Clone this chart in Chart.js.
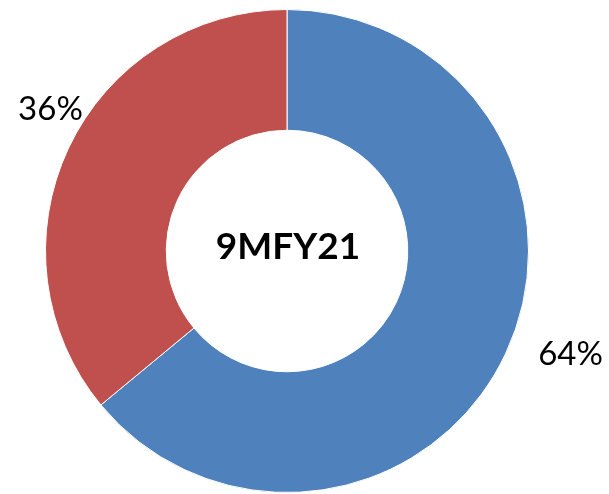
<!DOCTYPE html>
<html>
<head>
<meta charset="utf-8">
<script src="https://cdn.jsdelivr.net/npm/chart.js@4/dist/chart.umd.min.js"></script>
<style>
  html, body { margin: 0; padding: 0; background: #fff; }
  #wrap { width: 609px; height: 494px; }
</style>
</head>
<body>
<div id="wrap"><canvas id="donut"></canvas></div>
<script>
// values
const categories = ["A", "B"];
const shares = [64, 36];
const sliceColors = ["#4F81BD", "#C0504D"];
const centerTitle = "9MFY21";

// nudges for the outside labels, relative to the outer mid point of each slice
const labelNudge = [
  { dx: 65, dy: 1 },
  { dx: -18, dy: -39 }
];

const outsideLabels = {
  id: "outsideLabels",
  afterDatasetsDraw(chart) {
    const ctx = chart.ctx;
    const meta = chart.getDatasetMeta(0);
    const total = shares.reduce((a, b) => a + b, 0);
    ctx.save();
    ctx.fillStyle = "#000";
    ctx.font = "33px Lato";
    ctx.textAlign = "center";
    ctx.textBaseline = "middle";
    meta.data.forEach((arc, i) => {
      const p = arc.getProps(["x", "y", "startAngle", "endAngle", "outerRadius"], true);
      const mid = (p.startAngle + p.endAngle) / 2;
      const x = p.x + Math.cos(mid) * p.outerRadius + labelNudge[i].dx;
      const y = p.y + Math.sin(mid) * p.outerRadius + labelNudge[i].dy;
      ctx.fillText(Math.round(shares[i] * 100 / total) + "%", x, y);
    });

    // title in the hole
    const a = meta.data[0];
    ctx.font = "bold 37px Lato";
    ctx.fillText(centerTitle, a.x + 1, a.y - 4);
    ctx.restore();
  }
};

new Chart(document.getElementById("donut"), {
  type: "doughnut",
  plugins: [outsideLabels],
  data: {
    labels: categories,
    datasets: [
      {
        data: shares,
        backgroundColor: sliceColors,
        borderColor: "#ffffff",
        borderWidth: 1
      }
    ]
  },
  options: {
    responsive: true,
    maintainAspectRatio: false,
    animation: false,
    cutout: "50%",
    layout: { padding: { top: 9, bottom: 1, left: 45, right: 80 } },
    plugins: {
      legend: { display: false },
      tooltip: { enabled: false }
    }
  }
});
</script>
</body>
</html>
